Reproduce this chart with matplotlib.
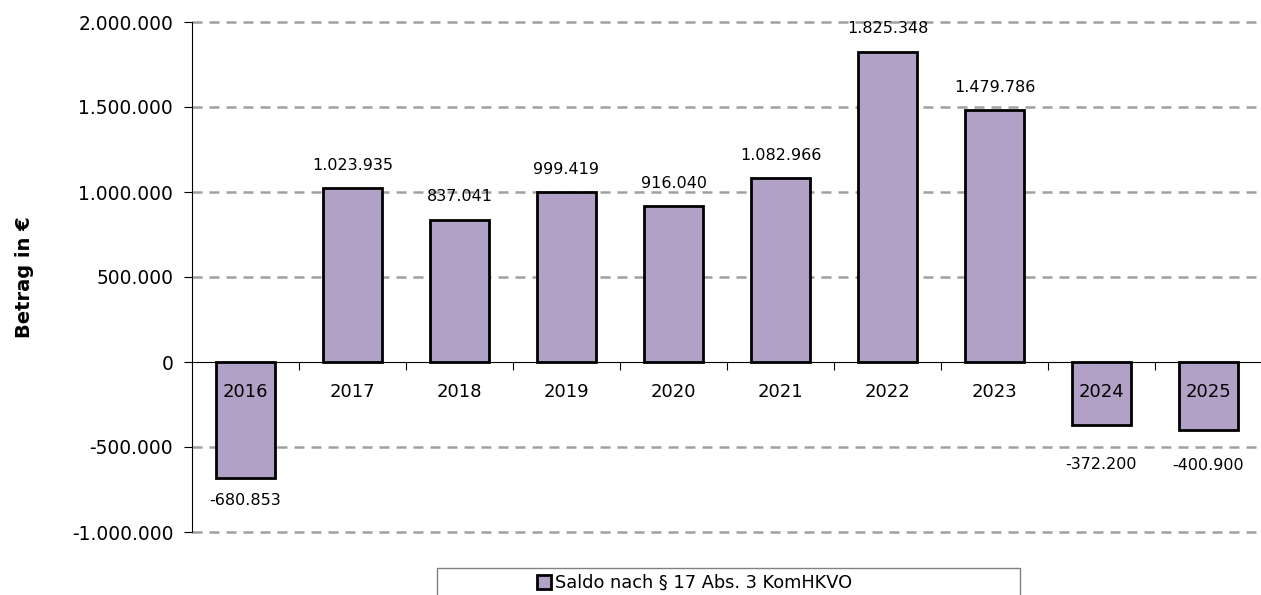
import numpy as np
import matplotlib
matplotlib.use('Agg')
import matplotlib.pyplot as plt
from matplotlib.patches import Rectangle

# data
years = ['2016', '2017', '2018', '2019', '2020', '2021', '2022', '2023', '2024', '2025']
saldo = [-680853, 1023935, 837041, 999419, 916040, 1082966, 1825348, 1479786, -372200, -400900]
series_name = 'Saldo nach § 17 Abs. 3 KomHKVO'

def de_fmt(v):
    return f'{v:,.0f}'.replace(',', '.')

plt.rcParams['font.family'] = ['DejaVu Sans']

fig = plt.figure(figsize=(12.61, 5.95), dpi=100)
ax = fig.add_axes([192/1261, 1-532/595, 1070/1261, 510/595])
ax.set_axisbelow(False)

x = np.arange(len(years))
bars = ax.bar(x, saldo, width=0.56, color='#B1A1C7', edgecolor='black',
              linewidth=2.0, label=series_name, zorder=2)

# data labels (last two sit a bit lower, like in the original)
pads = [11, 11, 11, 11, 11, 11, 11, 11, 23, 20]
for xi, v, p in zip(x, saldo, pads):
    off = p if v >= 0 else -p
    ax.annotate(de_fmt(v), (xi, v), xytext=(0, off), textcoords='offset points',
                ha='center', va='bottom' if v >= 0 else 'top', fontsize=11.5)

ax.set_xlim(-0.5, len(years) - 0.5)
ax.set_ylim(-1000000, 2000000)
yt = np.arange(-1000000, 2000001, 500000)
ax.set_yticks(yt)
ax.set_yticklabels([de_fmt(v) for v in yt], fontsize=13.4)
ax.tick_params(axis='y', length=6, width=0.8, pad=7.5)

# grid
for v in yt:
    if v != 0:
        ax.axhline(v, color='#A0A0A0', linestyle=(0, (4, 2.8)), linewidth=1.8,
                   zorder=0, clip_on=False)

# x axis at zero
ax.spines['bottom'].set_position(('data', 0))
ax.spines['top'].set_visible(False)
ax.spines['right'].set_visible(False)
ax.set_xticks(x)
ax.set_xticklabels(years, fontsize=13)
ax.tick_params(axis='x', which='major', length=0, pad=15)
ax.set_xticks(np.arange(0.5, len(years) - 1, 1), minor=True)
ax.tick_params(axis='x', which='minor', length=6, width=0.8, direction='out')

ax.set_ylabel('Betrag in €', fontsize=14, fontweight='bold')
ax.yaxis.set_label_coords(-0.148, 0.5)

# legend
leg = fig.legend(handles=[bars], labels=[series_name], loc='center left',
                 bbox_to_anchor=(521/1261, 1-583/595), frameon=False,
                 fontsize=12.8, handlelength=0.8, handleheight=0.8,
                 handletextpad=0.2)
fig.patches.append(Rectangle((437/1261, -0.05), 583/1261, 0.05 + 27/595,
                             transform=fig.transFigure, fill=False,
                             edgecolor='#808080', linewidth=1))

plt.savefig('out.png', dpi=100)
